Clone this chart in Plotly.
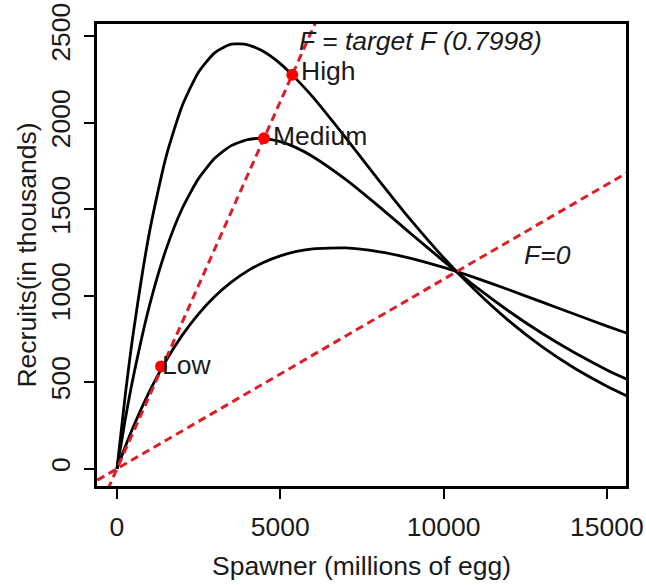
import plotly.graph_objects as go

# Spawner (millions of egg) sample points along the curves
spawner = [0, 250, 500, 1000, 1500, 2000, 2500, 3000, 3500, 4000, 4500, 5000,
           5500, 6000, 7000, 8000, 9000, 10000, 11000, 12000, 13000, 14000, 15000, 15600]
# Recruits (in thousands)
recruits_high = [0, 420, 785, 1373, 1801, 2099, 2293, 2405, 2453, 2450, 2410, 2341,
                 2250, 2147, 1913, 1671, 1436, 1219, 1025, 854, 707, 582, 477, 422]
recruits_medium = [0, 281, 531, 947, 1266, 1505, 1678, 1795, 1867, 1902, 1908, 1890,
                   1854, 1803, 1672, 1519, 1358, 1200, 1049, 910, 784, 671, 571, 518]
recruits_low = [0, 125, 242, 448, 624, 772, 895, 996, 1078, 1143, 1193, 1230,
                1256, 1271, 1276, 1255, 1216, 1163, 1101, 1034, 964, 894, 824, 784]

# Replacement lines
target_line_s = [-600, 6600]
target_line_r = [-255, 2800]
f0_line_s = [-600, 16000]
f0_line_r = [-66, 1752]

# Equilibrium points at target F
point_labels = ["High", "Medium", "Low"]
point_s = [5367, 4501, 1350]
point_r = [2276, 1910, 590]

x_ticks = [0, 5000, 10000, 15000]
y_ticks = [0, 500, 1000, 1500, 2000, 2500]

FONT = "Liberation Sans, Arial, sans-serif"
SIZE = 26.5
TXT = "#1a1a1a"
RED_LINE = "#dc1e26"
RED_PT = "#ff0000"

fig = go.Figure()
for ys in (recruits_high, recruits_medium, recruits_low):
    fig.add_trace(go.Scatter(x=spawner, y=ys, mode="lines",
                             line=dict(color="black", width=2.8, shape="spline", smoothing=0.6),
                             showlegend=False, hoverinfo="skip"))
fig.add_trace(go.Scatter(x=target_line_s, y=target_line_r, mode="lines",
                         line=dict(color=RED_LINE, width=3, dash="8px,5px"),
                         showlegend=False))
fig.add_trace(go.Scatter(x=f0_line_s, y=f0_line_r, mode="lines",
                         line=dict(color=RED_LINE, width=3, dash="8px,5px"),
                         showlegend=False))
fig.add_trace(go.Scatter(x=point_s, y=point_r, mode="markers",
                         marker=dict(color=RED_PT, size=12),
                         showlegend=False, cliponaxis=False))

label_shift = {"High": (7, 4), "Medium": (7, 2), "Low": (-1, 2)}
for lab, sx, ry in zip(point_labels, point_s, point_r):
    dx, dy = label_shift[lab]
    fig.add_annotation(x=sx, y=ry, text=lab, showarrow=False, xanchor="left",
                       yanchor="middle", xshift=dx, yshift=dy,
                       font=dict(family=FONT, size=SIZE, color=TXT))
fig.add_annotation(x=5520, y=2470, text="<i>F = target F (0.7998)</i>", showarrow=False,
                   xanchor="left", yanchor="middle",
                   font=dict(family=FONT, size=SIZE, color=TXT))
fig.add_annotation(x=12410, y=1235, text="<i>F=0</i>", showarrow=False,
                   xanchor="left", yanchor="middle",
                   font=dict(family=FONT, size=SIZE, color=TXT))

axis_common = dict(showline=True, linecolor="black", linewidth=2.8, mirror=True,
                   ticks="outside", ticklen=10, tickwidth=2.2, tickcolor="black",
                   showgrid=False, zeroline=False, automargin=False,
                   ticklabeloverflow="allow",
                   tickfont=dict(family=FONT, size=SIZE, color=TXT))
fig.update_xaxes(range=[-612, 15585], tickvals=x_ticks, ticktext=[str(v) for v in x_ticks],
                 ticklabelstandoff=5,
                 title=dict(text="Spawner (millions of egg)",
                            font=dict(family=FONT, size=SIZE, color=TXT), standoff=16),
                 **axis_common)
fig.update_yaxes(range=[-100, 2570], tickvals=y_ticks, ticktext=[str(v) for v in y_ticks],
                 tickangle=-90, ticklabelstandoff=4,
                 title=dict(text="Recruits(in thousands)",
                            font=dict(family=FONT, size=SIZE, color=TXT), standoff=2),
                 **axis_common)
fig.update_layout(width=646, height=585, margin=dict(l=97, r=20, t=24, b=99),
                  plot_bgcolor="white", paper_bgcolor="white")
# remove the browser's default 8px body margin so the figure fills the window
fig.write_html("out.html", config={"displayModeBar": False},
               post_script="document.body.style.margin='0';document.body.style.overflow='hidden';")
